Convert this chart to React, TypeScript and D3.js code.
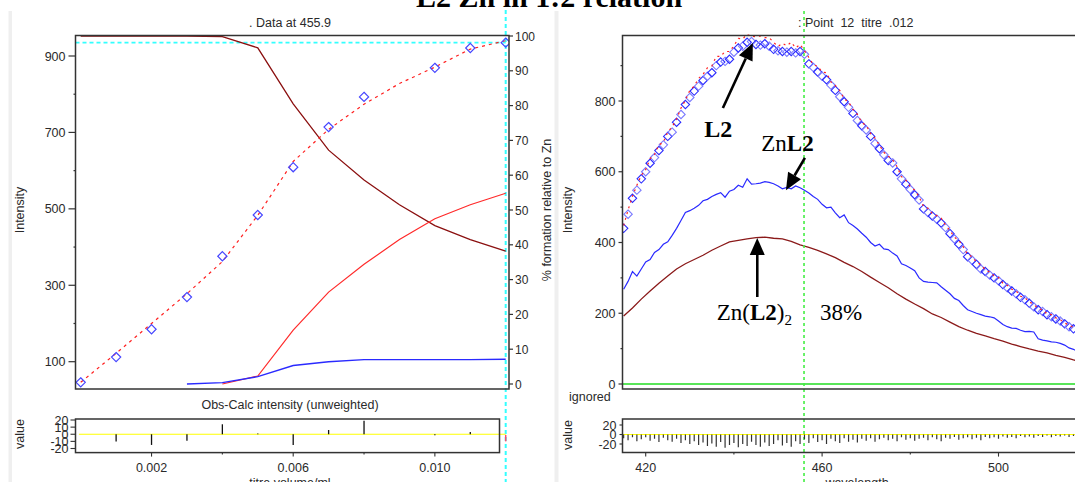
import React from 'react';
import * as d3 from 'd3';

// ---------- LEFT PANEL DATA (titration) ----------
const titreObsX = [0, 0.001, 0.002, 0.003, 0.004, 0.005, 0.006, 0.007, 0.008, 0.010, 0.011, 0.012];
const titreObsY = [46, 112, 185, 269, 376, 484, 609, 714, 793, 869, 921, 935];
const titreResidX = [0.001, 0.002, 0.003, 0.004, 0.005, 0.006, 0.007, 0.008, 0.010, 0.011];
const titreResid = [-10, -15, -9, 14, 1, -15, 6, 19, -1.5, 3];
const titreSelResid = -10;
const titreCalcX = [0, 0.001, 0.002, 0.003, 0.004, 0.005, 0.006, 0.007, 0.008, 0.009, 0.010, 0.011, 0.012];
const titreCalc = [46, 122, 200, 278, 362, 483, 624, 708, 774, 828, 871, 918, 940];
const pctFreeL2 = [100, 100, 100, 100, 99.8, 96.6, 80.5, 67.2, 58.6, 51.5, 45.5, 41.5, 38.2];
const pctZnL2 = [null, null, null, 0, 0.4, 2.1, 5.3, 6.4, 7.0, 7.0, 7.0, 7.0, 7.1];
const pctZnL22 = [null, null, null, null, 0, 2.3, 15.5, 26.4, 34.4, 41.5, 47.5, 51.5, 54.8];
const leftYTicksMajor = [100, 300, 500, 700, 900];
const leftYTicksMinor = [200, 400, 600, 800];
const pctTicks = [0, 10, 20, 30, 40, 50, 60, 70, 80, 90, 100];
const titreTicksMajor = [0.002, 0.006, 0.010];
const titreTicksMinor = [0.004, 0.008];
const residTicksL = [20, 10, 0, -10, -20];

// ---------- RIGHT PANEL DATA (spectrum) ----------
const obsStart = 415;
const specObs = [
  440, 480, 525, 548, 580, 600, 624, 640, 660, 676,
  700, 712, 740, 762, 790, 810, 828, 842, 858, 870,
  880, 900, 910, 912, 918, 938, 950, 955, 966, 968,
  960, 958, 962, 955, 946, 942, 940, 938, 940, 936,
  940, 932, 905, 895, 882, 870, 860, 845, 830, 812,
  798, 782, 765, 745, 730, 718, 700, 680, 665, 648,
  632, 625, 600, 580, 565, 550, 535, 520, 495, 485,
  475, 466, 455, 442, 425, 410, 395, 380, 360, 350,
  338, 325, 318, 308, 300, 292, 281, 272, 263, 255,
  245, 238, 228, 218, 210, 205, 196, 190, 184, 178,
  170, 162, 156
];
const specResid = [
  -8, -12, -6, -14, -10, -6, -13, -9, -16, -7,
  -12, -15, -9, -18, -12, -20, -14, -22, -17, -24,
  -19, -26, -16, -28, -22, -18, -27, -20, -24, -15,
  -22, -26, -17, -24, -20, -12, -23, -18, -26, -14,
  -20, -10, -18, -8, -16, -12, -20, -9, -14, -18,
  -8, -15, -11, -17, -9, -13, -8, -15, -10, -7,
  -12, -9, -14, -6, -11, -8, -13, -9, -7, -12,
  -6, -10, -14, -7, -9, -5, -11, -8, -6, -10,
  -7, -12, -5, -8, -6, -9, -4, -7, -5, -8,
  -3, -6, -4, -7, -3, -5, -2, -6, -3, -4,
  -2, -5, -3
];
const blueStart = 415;
const specZnL2 = [
  268, 290, 318, 305, 325, 345, 352, 372, 380, 395,
  402, 420, 440, 462, 485, 490, 497, 505, 518, 522,
  530, 536, 541, 528, 545, 550, 562, 556, 580, 565,
  566, 568, 572, 570, 566, 560, 552, 556, 552, 560,
  555, 548, 540, 530, 522, 508, 498, 500, 484, 470,
  478, 456, 448, 438, 426, 415, 400, 390, 395, 382,
  380, 370, 362, 340, 335, 328, 320, 300, 290, 288,
  287, 286, 275, 265, 255, 242, 236, 222, 210, 205,
  200, 196, 192, 190, 187, 178, 168, 162, 158, 157,
  152, 148, 149, 147, 128, 124, 122, 119, 118, 115,
  110, 102, 98, 92
];
const brownStart = 415;
const brownStep = 2;
const specZnL22 = [
  192, 215, 240, 263, 285, 305, 325, 340, 352, 364,
  378, 390, 402, 406, 410, 414, 415, 412, 410, 403,
  393, 386, 378, 368, 357, 344, 332, 318, 302, 287,
  272, 255, 240, 226, 213, 198, 188, 175, 162, 152,
  143, 136, 128, 121, 113, 106, 99, 93, 88, 81,
  75, 68, 63
];
const selectedWavelength = 455.9;
const rightYTicksMajor = [0, 200, 400, 600, 800];
const rightYTicksMinor = [100, 300, 500, 700, 900];
const wlTicksMajor = [420, 460, 500];
const wlTicksMinor = [440, 480];
const residTicksR = [20, 0, -20];

const SANS = '"Liberation Sans", Arial, sans-serif';
const SERIF = '"Liberation Serif", "Times New Roman", serif';
const TXT = '#2a2a2a';

function diamond(x: number, y: number, r: number) {
  return `M${x},${y - r}L${x + r},${y}L${x},${y + r}L${x - r},${y}Z`;
}

function Arrow({ x1, y1, x2, y2 }: { x1: number; y1: number; x2: number; y2: number }) {
  const ang = Math.atan2(y2 - y1, x2 - x1);
  const len = 17, half = 7.5;
  const bx = x2 - len * Math.cos(ang), by = y2 - len * Math.sin(ang);
  const px = -Math.sin(ang) * half, py = Math.cos(ang) * half;
  return (
    <g>
      <line x1={x1} y1={y1} x2={bx} y2={by} stroke="#000" strokeWidth={2.6} />
      <path d={`M${x2},${y2}L${bx + px},${by + py}L${bx - px},${by - py}Z`} fill="#000" />
    </g>
  );
}

export default function App() {
  // ---------- scales ----------
  const L = { x0: 75.5, x1: 509, y0: 35.5, y1: 389 };
  const LR = { x0: 75.5, x1: 499.5, y0: 419, y1: 452.6 };
  const xL = d3.scaleLinear().domain([0, 0.012]).range([80.7, 505.7]);
  const yL = d3.scaleLinear().domain([100, 900]).range([361.7, 56]);
  const pL = d3.scaleLinear().domain([0, 100]).range([384, 36]);
  const rL = d3.scaleLinear().domain([-20, 20]).range([448.5, 420]);

  const R = { x0: 622.5, x1: 1090, y0: 35.5, y1: 389 };
  const RR = { x0: 622.5, x1: 1090, y0: 419, y1: 452.6 };
  const xR = d3.scaleLinear().domain([420, 500]).range([645.7, 998.5]);
  const yR = d3.scaleLinear().domain([0, 800]).range([384, 101]);
  const rR = d3.scaleLinear().domain([-20, 20]).range([444, 425]);

  // ---------- tables ----------
  const pctRows = titreCalcX.map((t, i) => ({ t, free: pctFreeL2[i], znl2: pctZnL2[i], znl22: pctZnL22[i] }));
  const spec = specObs.map((v, i) => ({ w: obsStart + i, obs: v, resid: specResid[i], calc: v - specResid[i] }));
  const blue = specZnL2.map((v, i) => ({ w: blueStart + i, v }));
  const brown = specZnL22.map((v, i) => ({ w: brownStart + i * brownStep, v }));

  const lineCalcL = d3.line<number>().x((_, i) => xL(titreCalcX[i])).y((d) => yL(d));
  const pctLine = (key: 'free' | 'znl2' | 'znl22') =>
    d3.line<any>().defined((d) => d[key] != null).x((d) => xL(d.t)).y((d) => pL(d[key]))(pctRows) || '';
  const specLine = d3.line<any>().x((d) => xR(d.w)).y((d) => yR(d.v));
  const calcLineR = d3.line<any>().x((d) => xR(d.w)).y((d) => yR(d.calc));

  const selX = xR(selectedWavelength);
  const cyanX = xL(0.012);
  const cyanY = yL(titreObsY[titreObsY.length - 1]);

  return (
    <svg width={1075} height={482} style={{ position: 'absolute', left: 0, top: 0, background: '#fff' }}
      fontFamily={SANS}>
      <defs>
        <clipPath id="clipL"><rect x={L.x0} y={L.y0 - 1} width={L.x1 - L.x0} height={L.y1 - L.y0 + 1} /></clipPath>
        <clipPath id="clipR"><rect x={R.x0} y={R.y0 - 1} width={R.x1 - R.x0} height={R.y1 - R.y0 + 1} /></clipPath>
        <clipPath id="clipRR"><rect x={RR.x0} y={RR.y0} width={RR.x1 - RR.x0} height={RR.y1 - RR.y0} /></clipPath>
      </defs>
      <rect x={0} y={0} width={1075} height={482} fill="#fff" />

      {/* panel side bars */}
      <rect x={8.5} y={11} width={3.5} height={471} fill="#efefef" />
      <rect x={554.5} y={11} width={4} height={471} fill="#efefef" />

      {/* Title */}
      <text x={549} y={7} textAnchor="middle" fontFamily={SERIF} fontWeight="bold" fontSize={30} fill="#000">
        L2 Zn in 1:2 relation
      </text>

      {/* ================= LEFT PANEL ================= */}
      <text x={290} y={27} textAnchor="middle" fontSize={12.5} fill={TXT}>. Data at 455.9</text>

      {/* cyan guide lines */}
      <line x1={L.x0} x2={cyanX} y1={cyanY} y2={cyanY} stroke="#3ff" strokeWidth={1.6} strokeDasharray="4,3" />
      <line x1={cyanX} x2={cyanX} y1={10} y2={482} stroke="#3ff" strokeWidth={2} strokeDasharray="4,3" />

      <g clipPath="url(#clipL)">
        <path d={pctLine('free')} fill="none" stroke="#8b1010" strokeWidth={1.3} />
        <path d={pctLine('znl22')} fill="none" stroke="#ff2a2a" strokeWidth={1.2} />
        <path d={pctLine('znl2')} fill="none" stroke="#2a2aff" strokeWidth={1.4} />
        <path d={lineCalcL(titreCalc) || ''} fill="none" stroke="#ff2020" strokeWidth={1.2} strokeDasharray="3,4" />
        {titreObsX.map((t, i) => (
          <path key={i} d={diamond(xL(t), yL(titreObsY[i]), 4.6)} fill="none" stroke="#4646ff" strokeWidth={1.2} />
        ))}
      </g>

      {/* frame */}
      <rect x={L.x0} y={L.y0} width={L.x1 - L.x0} height={L.y1 - L.y0} fill="none" stroke="#333" strokeWidth={1.5} />

      {/* left y axis */}
      {leftYTicksMajor.map((v) => (
        <g key={v}>
          <line x1={L.x0 - 7} x2={L.x0} y1={yL(v)} y2={yL(v)} stroke="#333" strokeWidth={1.2} />
          <text x={L.x0 - 10} y={yL(v) + 4.5} textAnchor="end" fontSize={12.5} fill={TXT}>{v}</text>
        </g>
      ))}
      {leftYTicksMinor.map((v) => (
        <line key={v} x1={L.x0 - 2} x2={L.x0} y1={yL(v)} y2={yL(v)} stroke="#333" strokeWidth={1.2} />
      ))}
      <text transform={`translate(24,210) rotate(-90)`} textAnchor="middle" fontSize={12.5} fill={TXT}>Intensity</text>

      {/* right % axis */}
      {pctTicks.map((v) => (
        <g key={v}>
          <line x1={L.x1} x2={L.x1 + 4} y1={pL(v)} y2={pL(v)} stroke="#333" strokeWidth={1.2} />
          <text x={L.x1 + 6} y={pL(v) + 4.5} fontSize={12} fill={TXT}>{v}</text>
        </g>
      ))}
      <text transform={`translate(551,210) rotate(-90)`} textAnchor="middle" fontSize={12.5} fill={TXT}>
        % formation relative to Zn
      </text>

      {/* residual panel (left) */}
      <text x={290} y={409} textAnchor="middle" fontSize={12.5} fill={TXT}>Obs-Calc intensity (unweighted)</text>
      <line x1={xL(-0.00005)} x2={xL(0.012)} y1={rL(0)} y2={rL(0)} stroke="#ffff00" strokeWidth={1.2} />
      {titreResidX.map((t, i) => (
        <line key={i} x1={xL(t)} x2={xL(t)} y1={rL(0)} y2={rL(titreResid[i])} stroke="#111" strokeWidth={1.3} />
      ))}
      <line x1={xL(0.012)} x2={xL(0.012)} y1={rL(-1)} y2={rL(titreSelResid)} stroke="#ff4a6a" strokeWidth={1.5} />
      <rect x={LR.x0} y={LR.y0} width={LR.x1 - LR.x0} height={LR.y1 - LR.y0} fill="none" stroke="#333" strokeWidth={1.5} />
      {residTicksL.map((v) => (
        <g key={v}>
          <line x1={LR.x0 - 5} x2={LR.x0} y1={rL(v)} y2={rL(v)} stroke="#333" strokeWidth={1.1} />
          <text x={LR.x0 - 7} y={rL(v) + 4.5} textAnchor="end" fontSize={12.5} fill={TXT}>{v}</text>
        </g>
      ))}
      <text transform={`translate(24,434) rotate(-90)`} textAnchor="middle" fontSize={12.5} fill={TXT}>value</text>
      {titreTicksMajor.map((v) => (
        <g key={v}>
          <line x1={xL(v)} x2={xL(v)} y1={LR.y1} y2={LR.y1 + 4} stroke="#333" strokeWidth={1.1} />
          <text x={xL(v)} y={472} textAnchor="middle" fontSize={12.5} fill={TXT}>{v.toFixed(3)}</text>
        </g>
      ))}
      {titreTicksMinor.map((v) => (
        <line key={v} x1={xL(v)} x2={xL(v)} y1={LR.y1} y2={LR.y1 + 2} stroke="#333" strokeWidth={1.1} />
      ))}
      <text x={290} y={487} textAnchor="middle" fontSize={12.5} fill={TXT}>titre volume/ml</text>

      {/* ================= RIGHT PANEL ================= */}
      <text x={798} y={27} fontSize={12.5} fill={TXT} style={{ whiteSpace: 'pre' }}>{': Point  12  titre  .012'}</text>

      <g clipPath="url(#clipR)">
        <line x1={R.x0} x2={R.x1} y1={yR(0)} y2={yR(0)} stroke="#22dd22" strokeWidth={1.6} />
        <path d={specLine(brown) || ''} fill="none" stroke="#8b1a1a" strokeWidth={1.3} />
        <path d={specLine(blue) || ''} fill="none" stroke="#2a2aff" strokeWidth={1.2} />
        {spec.map((d, i) => (
          <path key={i} d={diamond(xR(d.w), yR(d.obs), 4.2)} fill="none"
            stroke={i % 2 === 0 ? '#2a2aff' : '#7a7aff'} strokeWidth={1.1} />
        ))}
        <path d={calcLineR(spec) || ''} fill="none" stroke="#ff2020" strokeWidth={1.2} strokeDasharray="2,4" />
      </g>
      <line x1={selX} x2={selX} y1={11} y2={482} stroke="#44ee44" strokeWidth={1.6} strokeDasharray="3,3" />

      {/* frame */}
      <path d={`M${R.x1},${R.y0}H${R.x0}V${R.y1}H${R.x1}`} fill="none" stroke="#333" strokeWidth={1.5} />

      {rightYTicksMajor.map((v) => (
        <g key={v}>
          <line x1={R.x0 - 4} x2={R.x0} y1={yR(v)} y2={yR(v)} stroke="#333" strokeWidth={1.2} />
          <text x={R.x0 - 7} y={yR(v) + 4.5} textAnchor="end" fontSize={12.5} fill={TXT}>{v}</text>
        </g>
      ))}
      {rightYTicksMinor.map((v) => (
        <line key={v} x1={R.x0 - 2} x2={R.x0} y1={yR(v)} y2={yR(v)} stroke="#333" strokeWidth={1.2} />
      ))}
      <text transform={`translate(572,210) rotate(-90)`} textAnchor="middle" fontSize={12.5} fill={TXT}>Intensity</text>
      <text x={569} y={401} fontSize={12.5} fill={TXT}>ignored</text>

      {/* annotations */}
      <Arrow x1={xR(437.5)} y1={yR(780)} x2={xR(444.3)} y2={yR(964)} />
      <text x={xR(433.3)} y={yR(698)} fontFamily={SERIF} fontWeight="bold" fontSize={24} fill="#000">L2</text>
      <Arrow x1={xR(456.1)} y1={yR(639)} x2={xR(451.8)} y2={yR(548)} />
      <text x={xR(446.2)} y={yR(658)} fontFamily={SERIF} fontSize={23} fill="#000">
        Zn<tspan fontWeight="bold">L2</tspan>
      </text>
      <Arrow x1={xR(445.3)} y1={yR(246)} x2={xR(445.3)} y2={yR(413)} />
      <text x={xR(436.1)} y={yR(180)} fontFamily={SERIF} fontSize={23} fill="#000">
        Zn(<tspan fontWeight="bold">L2</tspan>)<tspan fontSize={15} dy={5}>2</tspan>
      </text>
      <text x={xR(459.5)} y={yR(180)} fontFamily={SERIF} fontSize={23} fill="#000">38%</text>

      {/* residual panel (right) */}
      <g clipPath="url(#clipRR)">
        <line x1={RR.x0} x2={RR.x1} y1={rR(0)} y2={rR(0)} stroke="#ffff00" strokeWidth={1.2} />
        {spec.map((d, i) => (
          <line key={i} x1={xR(d.w)} x2={xR(d.w)} y1={rR(0)} y2={rR(d.resid)} stroke="#333" strokeWidth={1.2} />
        ))}
      </g>
      <path d={`M${RR.x1},${RR.y0}H${RR.x0}V${RR.y1}H${RR.x1}`} fill="none" stroke="#333" strokeWidth={1.5} />
      {residTicksR.map((v) => (
        <g key={v}>
          <line x1={RR.x0 - 3} x2={RR.x0} y1={rR(v)} y2={rR(v)} stroke="#333" strokeWidth={1.1} />
          <text x={RR.x0 - 6} y={rR(v) + 4.5} textAnchor="end" fontSize={12.5} fill={TXT}>{v}</text>
        </g>
      ))}
      <text transform={`translate(572,435) rotate(-90)`} textAnchor="middle" fontSize={12.5} fill={TXT}>value</text>
      {wlTicksMajor.map((v) => (
        <g key={v}>
          <line x1={xR(v)} x2={xR(v)} y1={RR.y1} y2={RR.y1 + 4} stroke="#333" strokeWidth={1.1} />
          <text x={xR(v)} y={472} textAnchor="middle" fontSize={12.5} fill={TXT}>{v}</text>
        </g>
      ))}
      {wlTicksMinor.map((v) => (
        <line key={v} x1={xR(v)} x2={xR(v)} y1={RR.y1} y2={RR.y1 + 2} stroke="#333" strokeWidth={1.1} />
      ))}
      <text x={857} y={487} textAnchor="middle" fontSize={12.5} fill={TXT}>wavelength</text>
    </svg>
  );
}
